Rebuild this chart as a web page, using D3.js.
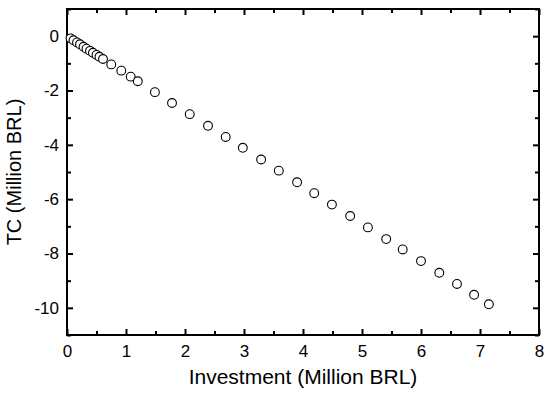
<!DOCTYPE html>
<html>
<head>
<meta charset="utf-8">
<script src="https://cdn.jsdelivr.net/npm/d3@7"></script>
<style>
  html, body { margin: 0; padding: 0; background: #fff; }
  svg { display: block; font-family: "Liberation Sans", Arial, sans-serif; }
</style>
</head>
<body>
<svg id="chart" width="550" height="397"></svg>
<script>
const investment = [0.06,0.11,0.17,0.22,0.28,0.33,0.39,0.44,0.50,0.55,0.61,0.75,0.92,1.08,1.20,1.49,1.78,2.08,2.39,2.69,2.98,3.29,3.59,3.90,4.19,4.49,4.80,5.10,5.41,5.69,6.00,6.31,6.61,6.90,7.15];
const tc = [-0.08,-0.15,-0.23,-0.30,-0.39,-0.46,-0.54,-0.61,-0.69,-0.76,-0.84,-1.04,-1.27,-1.49,-1.66,-2.06,-2.46,-2.87,-3.30,-3.71,-4.11,-4.54,-4.95,-5.38,-5.78,-6.20,-6.62,-7.04,-7.47,-7.85,-8.28,-8.71,-9.12,-9.52,-9.87];
const xMajorTicks = [0,1,2,3,4,5,6,7,8];
const xMinorTicks = [0.5,1.5,2.5,3.5,4.5,5.5,6.5,7.5];
const yMajorTicks = [0,-2,-4,-6,-8,-10];
const yMinorTicks = [1,-1,-3,-5,-7,-9,-11];
const xTitle = "Investment (Million BRL)";
const yTitle = "TC (Million BRL)";

const svg = d3.select("#chart");
const L = 67, R = 539, T = 9, B = 335;
const x = d3.scaleLinear().domain([0, 8]).range([L, R]);
const y = d3.scaleLinear().domain([-11, 1]).range([B, T]);
const fmt = d => String(d);

const axisStyle = g => {
  g.select(".domain").remove();
  g.selectAll("line").attr("stroke", "#000").attr("stroke-width", 2);
  g.selectAll("text").attr("fill", "#000").attr("font-size", 17).attr("font-family", "Liberation Sans, Arial, sans-serif");
};

// bottom axis
svg.append("g").attr("transform", `translate(0,${B})`)
  .call(d3.axisBottom(x).tickValues(xMajorTicks).tickSize(-6).tickPadding(10).tickFormat(fmt))
  .call(axisStyle);
svg.append("g").attr("transform", `translate(0,${B})`)
  .call(d3.axisBottom(x).tickValues(xMinorTicks).tickSize(-4).tickFormat(""))
  .call(axisStyle);
// top axis
svg.append("g").attr("transform", `translate(0,${T})`)
  .call(d3.axisTop(x).tickValues(xMajorTicks).tickSize(-6).tickFormat(""))
  .call(axisStyle);
svg.append("g").attr("transform", `translate(0,${T})`)
  .call(d3.axisTop(x).tickValues(xMinorTicks).tickSize(-4).tickFormat(""))
  .call(axisStyle);
// left axis
svg.append("g").attr("transform", `translate(${L},0)`)
  .call(d3.axisLeft(y).tickValues(yMajorTicks).tickSize(-6).tickPadding(8).tickFormat(fmt))
  .call(axisStyle);
svg.append("g").attr("transform", `translate(${L},0)`)
  .call(d3.axisLeft(y).tickValues(yMinorTicks).tickSize(-4).tickFormat(""))
  .call(axisStyle);
// right axis
svg.append("g").attr("transform", `translate(${R},0)`)
  .call(d3.axisRight(y).tickValues(yMajorTicks).tickSize(-6).tickFormat(""))
  .call(axisStyle);
svg.append("g").attr("transform", `translate(${R},0)`)
  .call(d3.axisRight(y).tickValues(yMinorTicks).tickSize(-4).tickFormat(""))
  .call(axisStyle);

// frame
svg.append("rect").attr("x", L).attr("y", T).attr("width", R - L).attr("height", B - T)
  .attr("fill", "none").attr("stroke", "#000").attr("stroke-width", 2);

// points
svg.append("g").selectAll("circle")
  .data(investment.map((v, i) => [v, tc[i]]))
  .join("circle")
  .attr("cx", d => x(d[0]))
  .attr("cy", d => y(d[1]))
  .attr("r", 4.4)
  .attr("fill", "#fff")
  .attr("stroke", "#000")
  .attr("stroke-width", 1.1);

// titles
svg.append("text").attr("x", (L + R) / 2).attr("y", 384)
  .attr("text-anchor", "middle").attr("font-size", 21).attr("fill", "#000").text(xTitle);
svg.append("text").attr("transform", `translate(21,${(T + B) / 2}) rotate(-90)`)
  .attr("text-anchor", "middle").attr("font-size", 20).attr("fill", "#000").text(yTitle);
</script>
</body>
</html>
